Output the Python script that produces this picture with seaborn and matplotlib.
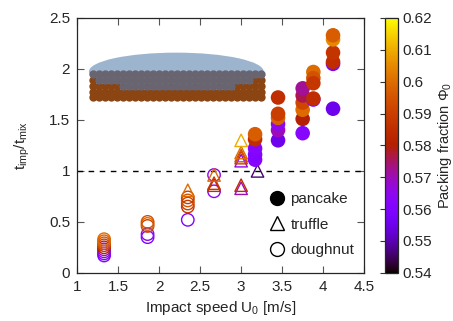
import numpy as np
import pandas as pd
import matplotlib
matplotlib.use('Agg')
import matplotlib.pyplot as plt
from matplotlib.patches import Ellipse
from matplotlib.lines import Line2D
from matplotlib.ticker import FormatStrFormatter
import seaborn as sns

# pancake (filled circles)
pancake_u = [3.17, 3.17, 3.17, 3.17, 3.17,
             3.45, 3.45, 3.45, 3.45, 3.45, 3.45,
             3.75, 3.75, 3.75, 3.75, 3.75, 3.75,
             3.88, 3.88, 3.88, 3.88, 3.88,
             4.12, 4.12, 4.12, 4.12, 4.12, 4.12]
pancake_t = [1.11, 1.16, 1.22, 1.31, 1.36,
             1.30, 1.40, 1.46, 1.52, 1.56, 1.72,
             1.37, 1.51, 1.60, 1.67, 1.74, 1.81,
             1.70, 1.97, 1.91, 1.86, 1.71,
             1.61, 2.05, 2.07, 2.16, 2.29, 2.33]
pancake_phi = [0.562, 0.560, 0.562, 0.585, 0.597,
               0.555, 0.570, 0.565, 0.598, 0.590, 0.585,
               0.562, 0.580, 0.600, 0.592, 0.576, 0.572,
               0.562, 0.600, 0.595, 0.588, 0.585,
               0.555, 0.560, 0.585, 0.587, 0.605, 0.597]

# truffle (open triangles)
truffle_u = [2.35, 2.67, 2.67, 2.67, 3.0, 3.0, 3.0, 3.0, 3.0, 3.0, 3.0, 3.2]
truffle_t = [0.81, 0.86, 0.88, 0.96, 1.10, 1.13, 1.15, 1.18, 1.30, 0.83, 0.86, 1.0]
truffle_phi = [0.600, 0.585, 0.588, 0.600, 0.565, 0.590, 0.595, 0.600, 0.610,
               0.570, 0.585, 0.546]

# doughnut (open circles)
doughnut_u = [1.33] * 9 + [1.86] * 5 + [2.35] * 5 + [2.67] * 2
doughnut_t = [0.17, 0.19, 0.21, 0.23, 0.25, 0.27, 0.29, 0.31, 0.33,
              0.35, 0.38, 0.46, 0.48, 0.50,
              0.52, 0.65, 0.68, 0.71, 0.74,
              0.80, 0.96]
doughnut_phi = [0.560, 0.560, 0.565, 0.570, 0.580, 0.590, 0.595, 0.598, 0.600,
                0.560, 0.565, 0.590, 0.600, 0.595,
                0.560, 0.588, 0.590, 0.595, 0.590,
                0.565, 0.565]

# decorative grain pile under the ellipse
grain_rows = [1.95, 1.893, 1.835, 1.778, 1.72]
grain_cols = np.arange(1.2, 3.26, 0.073)

phi_min, phi_max = 0.54, 0.62
cbar_ticks = [0.54, 0.55, 0.56, 0.57, 0.58, 0.59, 0.60, 0.61, 0.62]

sns.set_style('ticks')
plt.rcParams['font.family'] = ['Liberation Sans', 'DejaVu Sans']
plt.rcParams['mathtext.default'] = 'regular'
plt.rcParams['font.size'] = 11

fig = plt.figure(figsize=(4.53, 3.21), dpi=100)
ax = fig.add_axes([0.170, 0.150, 0.634, 0.794])
cax = fig.add_axes([0.850, 0.150, 0.029, 0.794])

cmap = plt.get_cmap('gnuplot')
norm = plt.Normalize(phi_min, phi_max)

# ellipse + grains illustration
ell_c, ell_w, ell_h = (2.21, 1.975), 2.13, 0.37
ax.add_patch(Ellipse(ell_c, ell_w, ell_h, facecolor='#9db4cf', edgecolor='none', zorder=1))
gx, gy = np.meshgrid(grain_cols, grain_rows)
gx, gy = gx.ravel(), gy.ravel()
inside = ((gx - ell_c[0]) / (ell_w / 2)) ** 2 + ((gy - ell_c[1]) / (ell_h / 2)) ** 2 < 1
ax.scatter(gx[~inside], gy[~inside], s=36, color='#8b4513', linewidths=0, zorder=2)
ax.scatter(gx[inside], gy[inside], s=36, color='#686470', linewidths=0, zorder=2)

ax.axhline(1.0, color='black', ls=(0, (4, 4)), lw=1, zorder=1)

df_d = pd.DataFrame({'u': doughnut_u, 't': doughnut_t, 'phi': doughnut_phi})
df_t = pd.DataFrame({'u': truffle_u, 't': truffle_t, 'phi': truffle_phi})
df_p = pd.DataFrame({'u': pancake_u, 't': pancake_t, 'phi': pancake_phi})

def hollow(df, marker, size):
    sns.scatterplot(data=df, x='u', y='t', hue='phi', palette='gnuplot',
                    hue_norm=(phi_min, phi_max), marker=marker, s=size,
                    legend=False, ax=ax, zorder=3)
    coll = ax.collections[-1]
    fc = coll.get_facecolors()
    coll.set_edgecolors(fc)
    coll.set_facecolors('none')
    coll.set_linewidths(1.0)

hollow(df_d, 'o', 80)
hollow(df_t, '^', 80)
sns.scatterplot(data=df_p, x='u', y='t', hue='phi', palette='gnuplot',
                hue_norm=(phi_min, phi_max), marker='o', s=110, linewidth=0,
                legend=False, ax=ax, zorder=4)

ax.set_xlim(1, 4.5)
ax.set_ylim(0, 2.5)
ax.set_xticks([1, 1.5, 2, 2.5, 3, 3.5, 4, 4.5])
ax.set_yticks([0, 0.5, 1, 1.5, 2, 2.5])
ax.xaxis.set_major_formatter(FormatStrFormatter('%g'))
ax.yaxis.set_major_formatter(FormatStrFormatter('%g'))
ax.tick_params(direction='in', top=True, right=True, length=5, width=0.8,
               color='#555555', labelsize=11, pad=5)
for sp in ax.spines.values():
    sp.set_visible(True)
    sp.set_linewidth(0.9)
ax.set_xlabel('Impact speed U$_0$ [m/s]', fontsize=11, labelpad=4)
ax.set_ylabel('t$_{imp}$/t$_{mix}$', fontsize=11, labelpad=12)

handles = [
    Line2D([], [], marker='o', ls='none', color='black', markersize=10),
    Line2D([], [], marker='^', ls='none', markerfacecolor='none',
           markeredgecolor='black', markersize=10),
    Line2D([], [], marker='o', ls='none', markerfacecolor='none',
           markeredgecolor='black', markersize=10),
]
ax.legend(handles, ['pancake', 'truffle', 'doughnut'], loc='upper left',
          bbox_to_anchor=(0.61, 0.37), frameon=False, fontsize=11,
          handletextpad=0.1, labelspacing=0.75, handlelength=1.5)

sm = plt.cm.ScalarMappable(norm=norm, cmap=cmap)
cb = fig.colorbar(sm, cax=cax, ticks=cbar_ticks, format=FormatStrFormatter('%g'))
cb.outline.set_linewidth(0.9)
cax.tick_params(direction='in', length=13, width=0.8, color='#333333', labelsize=11, pad=3)
cb.set_label('Packing fraction $\\Phi_0$', fontsize=10.5)
cax.yaxis.set_label_coords(3.85, 0.5)

fig.savefig('out.png', dpi=100)
